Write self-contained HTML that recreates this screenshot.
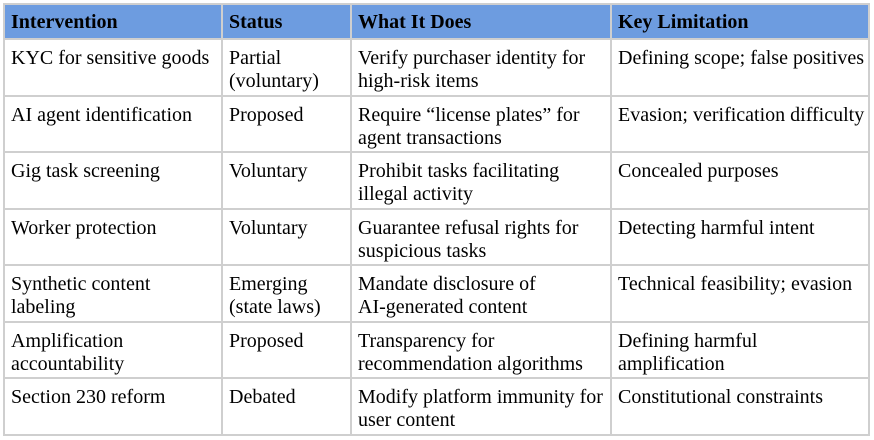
<!DOCTYPE html>
<html><head><style>
body{margin:0;background:#fff;width:874px;height:440px;overflow:hidden;font-family:"Liberation Serif","Times New Roman",serif;font-size:20px;color:#000}
table{position:absolute;left:3px;top:3px;border-collapse:collapse;table-layout:fixed}
td,th{border:2px solid #cfcfcf;padding:7px 0 0 6px;vertical-align:top;text-align:left;line-height:23px;box-sizing:border-box;font-family:"Liberation Serif","Times New Roman",serif;white-space:nowrap;overflow:visible}
th{background:#6d9ce0;font-weight:bold;height:35px;padding-top:6px}
td{height:56.5px}
</style></head><body>
<table>
<colgroup><col style="width:218px"><col style="width:129px"><col style="width:260px"><col style="width:258px"></colgroup>
<tr><th>Intervention</th><th>Status</th><th>What It Does</th><th>Key Limitation</th></tr>
<tr><td>KYC for sensitive goods</td><td>Partial<br>(voluntary)</td><td>Verify purchaser identity for<br>high-risk items</td><td>Defining scope; false positives</td></tr>
<tr><td>AI agent identification</td><td>Proposed</td><td>Require “license plates” for<br>agent transactions</td><td>Evasion; verification difficulty</td></tr>
<tr><td>Gig task screening</td><td>Voluntary</td><td>Prohibit tasks facilitating<br>illegal activity</td><td>Concealed purposes</td></tr>
<tr><td>Worker protection</td><td>Voluntary</td><td>Guarantee refusal rights for<br>suspicious tasks</td><td>Detecting harmful intent</td></tr>
<tr><td>Synthetic content<br>labeling</td><td>Emerging<br>(state laws)</td><td>Mandate disclosure of<br>AI-generated content</td><td>Technical feasibility; evasion</td></tr>
<tr><td>Amplification<br>accountability</td><td>Proposed</td><td>Transparency for<br>recommendation algorithms</td><td>Defining harmful<br>amplification</td></tr>
<tr><td>Section 230 reform</td><td>Debated</td><td>Modify platform immunity for<br>user content</td><td>Constitutional constraints</td></tr>
</table>
</body></html>
